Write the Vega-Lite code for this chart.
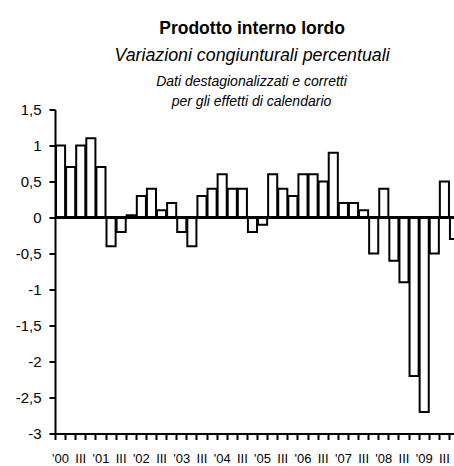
{
  "$schema": "https://vega.github.io/schema/vega-lite/v6.json",
  "background": "white",
  "padding": {"left": 15, "top": 19.5, "right": 0, "bottom": 0},
  "config": {
    "view": {"stroke": null},
    "font": "Liberation Sans, Arial, sans-serif",
    "concat": {"spacing": 0}
  },
  "title": {
    "text": "Prodotto interno lordo",
    "subtitle": "Variazioni congiunturali percentuali",
    "font": "Liberation Sans, Arial, sans-serif",
    "subtitleFont": "Liberation Sans, Arial, sans-serif",
    "fontSize": 17.5,
    "fontWeight": "bold",
    "color": "black",
    "subtitleFontSize": 17.8,
    "subtitleFontStyle": "italic",
    "subtitleColor": "black",
    "subtitlePadding": 10,
    "anchor": "middle",
    "dx": 17,
    "offset": 9.5
  },
  "vconcat": [
    {
      "title": {
        "text": ["Dati destagionalizzati e corretti", "per gli effetti di calendario"],
        "font": "Liberation Sans, Arial, sans-serif",
        "fontSize": 14,
        "fontStyle": "italic",
        "fontWeight": "normal",
        "color": "black",
        "lineHeight": 20.5,
        "anchor": "middle",
        "dx": -3,
        "offset": -6.5
      },
      "width": 399,
      "height": 324,
      "data": {
        "values": [
          {"t": 0, "trimestre": "2000 T1", "v": 1.0},
          {"t": 1, "trimestre": "2000 T2", "v": 0.7},
          {"t": 2, "trimestre": "2000 T3", "v": 1.0},
          {"t": 3, "trimestre": "2000 T4", "v": 1.1},
          {"t": 4, "trimestre": "2001 T1", "v": 0.7},
          {"t": 5, "trimestre": "2001 T2", "v": -0.4},
          {"t": 6, "trimestre": "2001 T3", "v": -0.2},
          {"t": 7, "trimestre": "2001 T4", "v": 0.03},
          {"t": 8, "trimestre": "2002 T1", "v": 0.3},
          {"t": 9, "trimestre": "2002 T2", "v": 0.4},
          {"t": 10, "trimestre": "2002 T3", "v": 0.1},
          {"t": 11, "trimestre": "2002 T4", "v": 0.2},
          {"t": 12, "trimestre": "2003 T1", "v": -0.2},
          {"t": 13, "trimestre": "2003 T2", "v": -0.4},
          {"t": 14, "trimestre": "2003 T3", "v": 0.3},
          {"t": 15, "trimestre": "2003 T4", "v": 0.4},
          {"t": 16, "trimestre": "2004 T1", "v": 0.6},
          {"t": 17, "trimestre": "2004 T2", "v": 0.4},
          {"t": 18, "trimestre": "2004 T3", "v": 0.4},
          {"t": 19, "trimestre": "2004 T4", "v": -0.2},
          {"t": 20, "trimestre": "2005 T1", "v": -0.1},
          {"t": 21, "trimestre": "2005 T2", "v": 0.6},
          {"t": 22, "trimestre": "2005 T3", "v": 0.4},
          {"t": 23, "trimestre": "2005 T4", "v": 0.3},
          {"t": 24, "trimestre": "2006 T1", "v": 0.6},
          {"t": 25, "trimestre": "2006 T2", "v": 0.6},
          {"t": 26, "trimestre": "2006 T3", "v": 0.5},
          {"t": 27, "trimestre": "2006 T4", "v": 0.9},
          {"t": 28, "trimestre": "2007 T1", "v": 0.2},
          {"t": 29, "trimestre": "2007 T2", "v": 0.2},
          {"t": 30, "trimestre": "2007 T3", "v": 0.1},
          {"t": 31, "trimestre": "2007 T4", "v": -0.5},
          {"t": 32, "trimestre": "2008 T1", "v": 0.4},
          {"t": 33, "trimestre": "2008 T2", "v": -0.6},
          {"t": 34, "trimestre": "2008 T3", "v": -0.9},
          {"t": 35, "trimestre": "2008 T4", "v": -2.2},
          {"t": 36, "trimestre": "2009 T1", "v": -2.7},
          {"t": 37, "trimestre": "2009 T2", "v": -0.5},
          {"t": 38, "trimestre": "2009 T3", "v": 0.5},
          {"t": 39, "trimestre": "2009 T4", "v": -0.3}
        ]
      },
      "layer": [
        {
          "mark": {"type": "bar", "fill": "white", "stroke": "black", "strokeWidth": 2, "clip": true},
          "encoding": {
            "x": {
              "field": "t",
              "type": "quantitative",
              "bin": {"step": 1, "extent": [0, 40], "nice": false},
              "scale": {"domain": [0, 39.5], "nice": false, "zero": false},
              "axis": {
                "title": null,
                "tickCount": 200,
                "values": [0, 0.5, 1, 2, 2.5, 3, 4, 4.5, 5, 6, 6.5, 7, 8, 8.5, 9, 10, 10.5, 11, 12, 12.5, 13, 14, 14.5, 15, 16, 16.5, 17, 18, 18.5, 19, 20, 20.5, 21, 22, 22.5, 23, 24, 24.5, 25, 26, 26.5, 27, 28, 28.5, 29, 30, 30.5, 31, 32, 32.5, 33, 34, 34.5, 35, 36, 36.5, 37, 38, 38.5, 39],
                "labelExpr": "datum.value % 1 == 0 ? '' : (floor(datum.value) % 4 == 0 ? \"'0\" + floor(datum.value / 4) : 'III')",
                "labelOverlap": false,
                "labelFlush": false,
                "labelAngle": 0,
                "labelFontSize": 13,
                "labelColor": "black",
                "labelPadding": 13,
                "domainColor": "black",
                "domainWidth": 2,
                "tickColor": "black",
                "tickWidth": 2,
                "tickSize": 6,
                "tickOpacity": {"condition": {"test": "datum.value % 1 != 0", "value": 0}, "value": 1},
                "grid": false
              }
            },
            "y": {
              "field": "v",
              "type": "quantitative",
              "scale": {"domain": [-3, 1.5], "nice": false},
              "axis": {
                "title": null,
                "tickCount": 20,
                "values": [-3, -2.5, -2, -1.5, -1, -0.5, 0, 0.5, 1, 1.5],
                "labelExpr": "replace(toString(datum.value), '.', ',')",
                "labelOverlap": false,
                "labelFlush": false,
                "labelFontSize": 15,
                "labelColor": "black",
                "labelPadding": 8,
                "domainColor": "black",
                "domainWidth": 2,
                "tickColor": "black",
                "tickWidth": 2,
                "tickSize": 6,
                "grid": false
              }
            }
          }
        },
        {
          "mark": {"type": "rule", "color": "black", "strokeWidth": 2},
          "encoding": {"y": {"datum": 0}}
        }
      ]
    }
  ]
}
